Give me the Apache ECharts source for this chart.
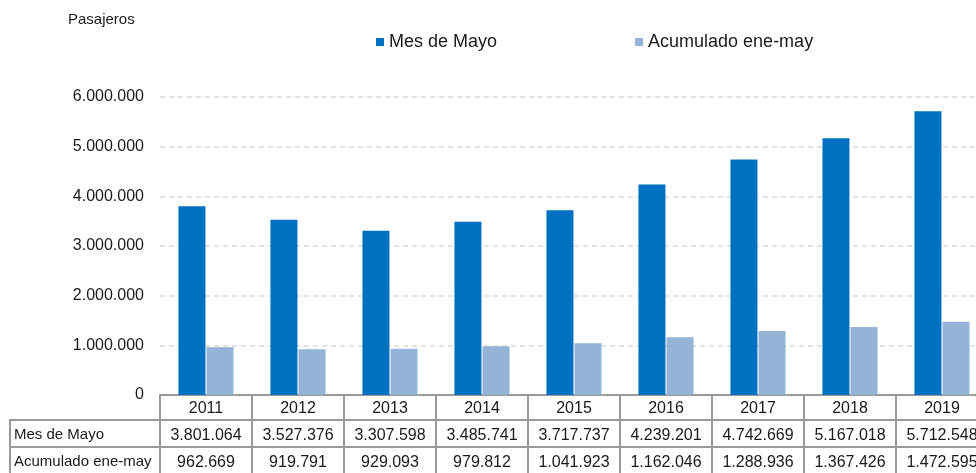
<!DOCTYPE html>
<html>
<head>
<meta charset="utf-8">
<script src="https://cdn.jsdelivr.net/npm/echarts@6/dist/echarts.min.js"></script>
<style>
  html, body { margin: 0; padding: 0; overflow: hidden; background: #fff; }
  #chart { width: 990px; height: 473px; }
</style>
</head>
<body>
<div id="chart"></div>
<script>
var years = ['2011', '2012', '2013', '2014', '2015', '2016', '2017', '2018', '2019'];
var mesMayo = [3801064, 3527376, 3307598, 3485741, 3717737, 4239201, 4742669, 5167018, 5712548];
var acumulado = [962669, 919791, 929093, 979812, 1041923, 1162046, 1288936, 1367426, 1472595];
var seriesNames = ['Mes de Mayo', 'Acumulado ene-may'];

var FONT = 'Liberation Sans';
var border = '#9a9a9a';

function fmt(v) {
  return String(v).replace(/\B(?=(\d{3})+(?!\d))/g, '.');
}

var echart = echarts.init(document.getElementById('chart'));

// table rows below the plot are extra category axes stacked with offset
function tableAxis(data, offset, tickLen, margin) {
  return {
    type: 'category',
    position: 'bottom',
    offset: offset,
    data: data,
    axisLine: { show: true, lineStyle: { color: border, width: 2 } },
    axisTick: { show: true, interval: 0, length: tickLen, lineStyle: { color: border, width: 2 } },
    axisLabel: { interval: 0, margin: margin, color: '#1a1a1a', fontSize: 16, fontFamily: FONT },
    splitLine: { show: false }
  };
}

var option = {
  animation: false,
  textStyle: { fontFamily: FONT },
  title: {
    text: 'Pasajeros',
    left: 63,
    top: 7,
    textStyle: { fontSize: 15, fontWeight: 'normal', color: '#1a1a1a', fontFamily: FONT }
  },
  legend: {
    data: seriesNames,
    left: 371,
    top: 28,
    icon: 'rect',
    itemWidth: 8,
    itemHeight: 8,
    itemGap: 138,
    itemStyle: { borderWidth: 0 },
    textStyle: { fontSize: 18, color: '#1a1a1a', fontFamily: FONT }
  },
  grid: { left: 160, right: 2, top: 97, bottom: 78 },
  xAxis: [
    tableAxis(years, 0, 25, 6),
    tableAxis(mesMayo.map(fmt), 25, 27, 8),
    tableAxis(acumulado.map(fmt), 52, 30, 8)
  ],
  yAxis: {
    type: 'value',
    min: 0,
    max: 6000000,
    interval: 1000000,
    axisLine: { show: false },
    axisTick: { show: false },
    axisLabel: { margin: 16, fontSize: 16, color: '#1a1a1a', fontFamily: FONT, formatter: fmt },
    splitLine: { lineStyle: { color: '#d9d9d9', width: 1.5, type: [5, 4] } }
  },
  graphic: [
    { type: 'line', shape: { x1: 10, y1: 420, x2: 160, y2: 420 }, style: { stroke: border, lineWidth: 2 } },
    { type: 'line', shape: { x1: 10, y1: 447, x2: 160, y2: 447 }, style: { stroke: border, lineWidth: 2 } },
    { type: 'line', shape: { x1: 10, y1: 419, x2: 10, y2: 473 }, style: { stroke: border, lineWidth: 2 } },
    { type: 'text', left: 14, top: 427, style: { text: seriesNames[0], font: '15px "' + FONT + '"', fill: '#1a1a1a' } },
    { type: 'text', left: 14, top: 454, style: { text: seriesNames[1], font: '15px "' + FONT + '"', fill: '#1a1a1a' } }
  ],
  series: [
    {
      name: seriesNames[0],
      type: 'bar',
      xAxisIndex: 0,
      barWidth: 27,
      barGap: '4%',
      itemStyle: { color: '#0070C0' },
      data: mesMayo
    },
    {
      name: seriesNames[1],
      type: 'bar',
      xAxisIndex: 0,
      barWidth: 27,
      itemStyle: { color: '#95B3D7' },
      data: acumulado
    }
  ]
};

echart.setOption(option);
</script>
</body>
</html>
